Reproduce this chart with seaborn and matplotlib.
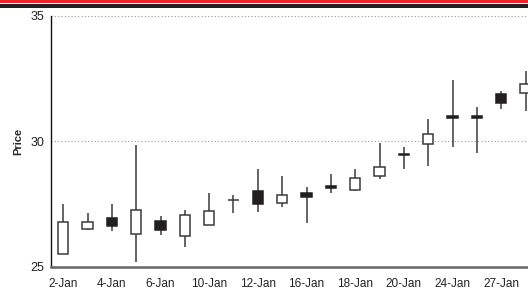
import numpy as np
import pandas as pd
import seaborn as sns
import matplotlib
matplotlib.use("Agg")
import matplotlib.pyplot as plt
from matplotlib.patches import Rectangle

# Daily prices
dates = ["2-Jan", "3-Jan", "4-Jan", "5-Jan", "6-Jan", "9-Jan", "10-Jan", "11-Jan",
         "12-Jan", "13-Jan", "16-Jan", "17-Jan", "18-Jan", "19-Jan", "20-Jan",
         "23-Jan", "24-Jan", "25-Jan", "27-Jan", "30-Jan"]
opens = [25.50, 26.52, 26.94, 26.32, 26.81, 26.22, 26.68, 27.64,
         28.01, 27.53, 27.93, 28.21, 28.05, 28.61, 29.50,
         29.87, 31.01, 31.01, 31.90, 31.94]
closes = [26.78, 26.78, 26.61, 27.25, 26.45, 27.05, 27.21, 27.64,
          27.48, 27.84, 27.78, 28.12, 28.55, 28.98, 29.46,
          30.28, 30.93, 30.93, 31.53, 32.26]
highs = [27.49, 27.13, 27.49, 29.84, 27.01, 27.25, 27.94, 27.85,
         28.88, 28.63, 28.16, 28.69, 28.88, 29.91, 29.77,
         30.88, 32.43, 31.37, 31.99, 32.79]
lows = [25.50, 26.48, 26.43, 25.19, 26.28, 25.79, 26.68, 27.14,
        27.18, 27.38, 26.75, 27.94, 28.00, 28.51, 28.90,
        29.00, 29.75, 29.53, 31.29, 31.20]

df = pd.DataFrame({"date": dates, "open": opens, "close": closes,
                   "high": highs, "low": lows})
df["pos"] = np.arange(len(df))
df["up"] = df["close"] >= df["open"]

sns.set_style("white")
plt.rcParams["font.family"] = ["Liberation Sans", "DejaVu Sans"]

fig = plt.figure(figsize=(5.28, 2.89), dpi=100)
ax = fig.add_axes([51 / 528, 22.3 / 289, 511 / 528, 251 / 289])

dark = "#231f20"
edge = "#3a3a3a"

# wicks
ax.vlines(df["pos"], df["low"], df["high"], color=edge, lw=1.1, zorder=2)

# bodies
width = 0.42
body_bottom = df[["open", "close"]].min(axis=1)
body_height = (df["close"] - df["open"]).abs()
face = np.where(df["up"], "white", dark)
ax.bar(df["pos"], body_height, bottom=body_bottom, width=width,
       color=face, edgecolor=np.where(df["up"], edge, dark), linewidth=1.1, zorder=3)

ax.set_xlim(-0.5, 20.5)
ax.set_ylim(25, 35)
ax.set_yticks([25, 30, 35])
ax.set_xticks(df["pos"][::2])
ax.set_xticklabels(df["date"][::2])
ax.tick_params(axis="both", length=0, colors="#222222")
ax.tick_params(axis="y", pad=5, labelsize=9)
ax.tick_params(axis="x", pad=8, labelsize=8.5)
ax.set_ylabel("Price", fontsize=8, fontweight="bold", labelpad=5)

for yv in [30, 35]:
    ax.axhline(yv, color="#999999", lw=0.8, ls=(0, (1, 2)), zorder=1)

sns.despine(ax=ax, top=True, right=True)
ax.spines["left"].set_color("#111111")
ax.spines["left"].set_linewidth(1.0)
ax.spines["bottom"].set_color("#666666")
ax.spines["bottom"].set_linewidth(1.8)

# header stripes
fig.add_artist(Rectangle((0, 1 - 2.7 / 289), 1, 2.7 / 289, transform=fig.transFigure,
                         color="#e8262a", lw=0))
fig.add_artist(Rectangle((0, 1 - 7.6 / 289), 1, 4.0 / 289, transform=fig.transFigure,
                         color=dark, lw=0))

fig.savefig("out.png", dpi=100)
